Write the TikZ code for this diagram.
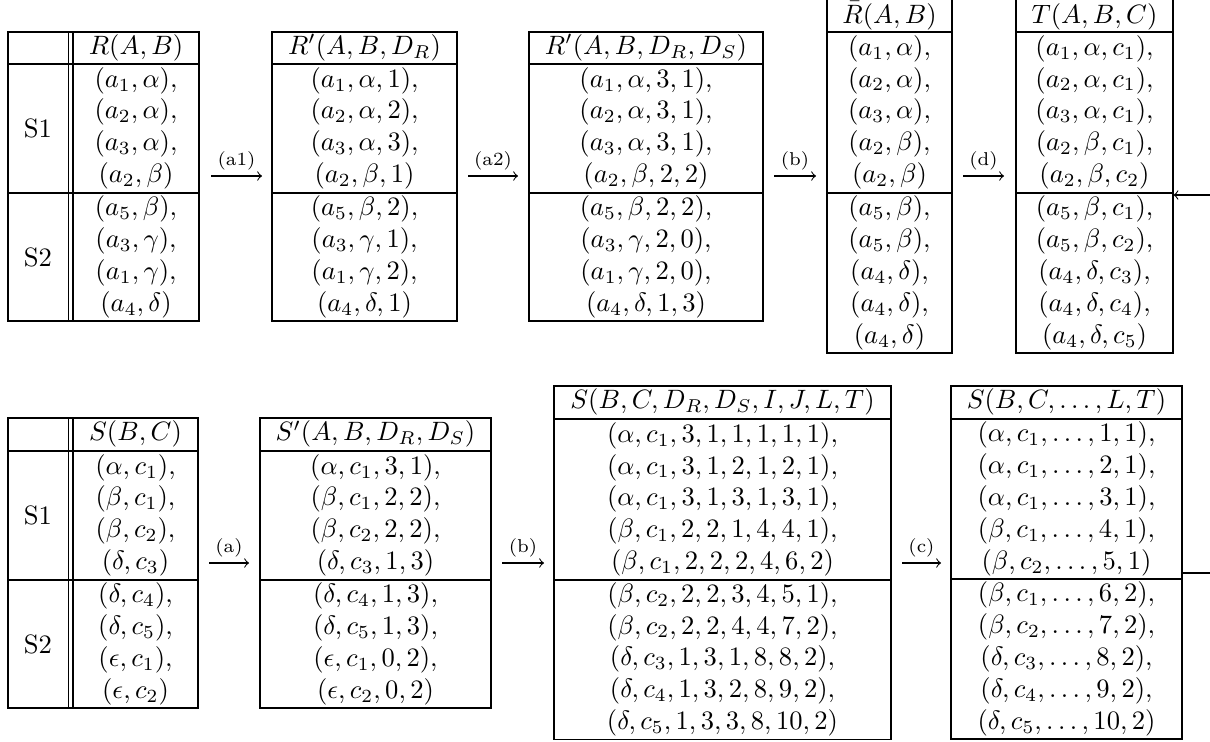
\documentclass[tikz,border=0pt]{standalone}
\newcommand\rw[1]{\strut$#1$}
\newcommand\tcell[6]{\node[cellbox, minimum width={(#4-#2)*0.3764pt}, minimum height={(#5-#3)*0.3764pt}] (#1) at ({(#2+#4)/2},{(#3+#5)/2}) {#6};}
\newcommand\sidelab[1]{\hspace*{-0.94pt}#1\hspace*{0.94pt}}
\tikzset{
  cellbox/.style={draw, line width=0.4pt, inner sep=0pt, align=center},
  headtext/.style={anchor=base, inner sep=0pt},
  flow/.style={->, line width=0.4pt},
  rule/.style={line width=0.4pt},
  lab/.style={above, inner sep=2pt, font=\scriptsize},
}
\begin{document}
\begin{tikzpicture}[x=0.3764pt, y=-0.3764pt]
\useasboundingbox (0,0) rectangle (1210,742);

% ---- Table R(A,B)
\tcell{rH0}{8}{32}{73}{64}{}
\tcell{rH}{73}{32}{199}{64}{\rw{R(A,B)}}
\tcell{rS1}{8}{64}{73}{193}{\sidelab{S1}}
\tcell{rB1}{73}{64}{199}{193}{\rw{(a_1,\alpha),}\\\rw{(a_2,\alpha),}\\\rw{(a_3,\alpha),}\\\rw{(a_2,\beta)}}
\tcell{rS2}{8}{193}{73}{321}{\sidelab{S2}}
\tcell{rB2}{73}{193}{199}{321}{\rw{(a_5,\beta),}\\\rw{(a_3,\gamma),}\\\rw{(a_1,\gamma),}\\\rw{(a_4,\delta)}}
\draw[rule] (rH0.north east) ++(-5,0) -- ([xshift=-5*0.3764pt]rS2.south east);

% ---- Table R'(A,B,D_R)
\tcell{pH}{272}{32}{457}{64}{\rw{R'(A,B,D_R)}}
\tcell{pB1}{272}{64}{457}{193}{\rw{(a_1,\alpha,1),}\\\rw{(a_2,\alpha,2),}\\\rw{(a_3,\alpha,3),}\\\rw{(a_2,\beta,1)}}
\tcell{pB2}{272}{193}{457}{321}{\rw{(a_5,\beta,2),}\\\rw{(a_3,\gamma,1),}\\\rw{(a_1,\gamma,2),}\\\rw{(a_4,\delta,1)}}

% ---- Table R'(A,B,D_R,D_S)
\tcell{qH}{529}{32}{763}{64}{\rw{R'(A,B,D_R,D_S)}}
\tcell{qB1}{529}{64}{763}{193}{\rw{(a_1,\alpha,3,1),}\\\rw{(a_2,\alpha,3,1),}\\\rw{(a_3,\alpha,3,1),}\\\rw{(a_2,\beta,2,2)}}
\tcell{qB2}{529}{193}{763}{321}{\rw{(a_5,\beta,2,2),}\\\rw{(a_3,\gamma,2,0),}\\\rw{(a_1,\gamma,2,0),}\\\rw{(a_4,\delta,1,3)}}

% ---- Table bar R(A,B)
\tcell{bH}{827}{-2}{952}{32}{}
\node[headtext] (bHt) at (889.5,23.5) {$\bar{R}(A,B)$};
\tcell{bB1}{827}{32}{952}{193}{\rw{(a_1,\alpha),}\\\rw{(a_2,\alpha),}\\\rw{(a_3,\alpha),}\\\rw{(a_2,\beta),}\\\rw{(a_2,\beta)}}
\tcell{bB2}{827}{193}{952}{353}{\rw{(a_5,\beta),}\\\rw{(a_5,\beta),}\\\rw{(a_4,\delta),}\\\rw{(a_4,\delta),}\\\rw{(a_4,\delta)}}

% ---- Table T(A,B,C)
\tcell{tH}{1016}{-2}{1173}{32}{}
\node[headtext] (tHt) at (1094.5,23.5) {$T(A,B,C)$};
\tcell{tB1}{1016}{32}{1173}{193}{\rw{(a_1,\alpha,c_1),}\\\rw{(a_2,\alpha,c_1),}\\\rw{(a_3,\alpha,c_1),}\\\rw{(a_2,\beta,c_1),}\\\rw{(a_2,\beta,c_2)}}
\tcell{tB2}{1016}{193}{1173}{353}{\rw{(a_5,\beta,c_1),}\\\rw{(a_5,\beta,c_2),}\\\rw{(a_4,\delta,c_3),}\\\rw{(a_4,\delta,c_4),}\\\rw{(a_4,\delta,c_5)}}

% ---- Table S(B,C)
\tcell{sH0}{8}{418}{73}{451}{}
\tcell{sH}{73}{418}{198}{451}{\rw{S(B,C)}}
\tcell{sS1}{8}{451}{73}{580}{\sidelab{S1}}
\tcell{sB1}{73}{451}{198}{580}{\rw{(\alpha,c_1),}\\\rw{(\beta,c_1),}\\\rw{(\beta,c_2),}\\\rw{(\delta,c_3)}}
\tcell{sS2}{8}{580}{73}{708}{\sidelab{S2}}
\tcell{sB2}{73}{580}{198}{708}{\rw{(\delta,c_4),}\\\rw{(\delta,c_5),}\\\rw{(\epsilon,c_1),}\\\rw{(\epsilon,c_2)}}
\draw[rule] (sH0.north east) ++(-5,0) -- ([xshift=-5*0.3764pt]sS2.south east);

% ---- Table S'(A,B,D_R,D_S)
\tcell{uH}{260}{418}{491}{451}{\rw{S'(A,B,D_R,D_S)}}
\tcell{uB1}{260}{451}{491}{580}{\rw{(\alpha,c_1,3,1),}\\\rw{(\beta,c_1,2,2),}\\\rw{(\beta,c_2,2,2),}\\\rw{(\delta,c_3,1,3)}}
\tcell{uB2}{260}{580}{491}{708}{\rw{(\delta,c_4,1,3),}\\\rw{(\delta,c_5,1,3),}\\\rw{(\epsilon,c_1,0,2),}\\\rw{(\epsilon,c_2,0,2)}}

% ---- Table S(B,C,D_R,D_S,I,J,L,T)
\tcell{vH}{554}{386}{891}{419}{\rw{S(B,C,D_R,D_S,I,J,L,T)}}
\tcell{vB1}{554}{419}{891}{580}{\rw{(\alpha,c_1,3,1,1,1,1,1),}\\\rw{(\alpha,c_1,3,1,2,1,2,1),}\\\rw{(\alpha,c_1,3,1,3,1,3,1),}\\\rw{(\beta,c_1,2,2,1,4,4,1),}\\\rw{(\beta,c_1,2,2,2,4,6,2)}}
\tcell{vB2}{554}{580}{891}{739}{\rw{(\beta,c_2,2,2,3,4,5,1),}\\\rw{(\beta,c_2,2,2,4,4,7,2),}\\\rw{(\delta,c_3,1,3,1,8,8,2),}\\\rw{(\delta,c_4,1,3,2,8,9,2),}\\\rw{(\delta,c_5,1,3,3,8,10,2)}}

% ---- Table S(B,C,...,L,T)
\tcell{wH}{951}{386}{1182}{419}{\rw{S(B,C,\ldots,L,T)}}
\tcell{wB1}{951}{419}{1182}{579}{\rw{(\alpha,c_1,\ldots,1,1),}\\\rw{(\alpha,c_1,\ldots,2,1),}\\\rw{(\alpha,c_1,\ldots,3,1),}\\\rw{(\beta,c_1,\ldots,4,1),}\\\rw{(\beta,c_2,\ldots,5,1)}}
\tcell{wB2}{951}{579}{1182}{739}{\rw{(\beta,c_1,\ldots,6,2),}\\\rw{(\beta,c_2,\ldots,7,2),}\\\rw{(\delta,c_3,\ldots,8,2),}\\\rw{(\delta,c_4,\ldots,9,2),}\\\rw{(\delta,c_5,\ldots,10,2)}}

% ---- arrows, top row
\coordinate (a1s) at (211,176); \coordinate (a1e) at (262,176);
\draw[flow] (a1s) -- node[lab]{(a1)} (a1e);
\coordinate (a2s) at (468,176); \coordinate (a2e) at (518,176);
\draw[flow] (a2s) -- node[lab]{(a2)} (a2e);
\coordinate (bs) at (774,176); \coordinate (be) at (816,176);
\draw[flow] (bs) -- node[lab]{(b)} (be);
\coordinate (ds) at (963,176); \coordinate (de) at (1004,176);
\draw[flow] (ds) -- node[lab]{(d)} (de);

% ---- arrows, bottom row
\coordinate (as) at (209,563); \coordinate (ae) at (249,563);
\draw[flow] (as) -- node[lab]{(a)} (ae);
\coordinate (b2s) at (502,563); \coordinate (b2e) at (544,563);
\draw[flow] (b2s) -- node[lab]{(b)} (b2e);
\coordinate (cs) at (902,563); \coordinate (ce) at (941,563);
\draw[flow] (cs) -- node[lab]{(c)} (ce);

% ---- connectors leaving the picture on the right
\coordinate (inT) at (1210,195);
\draw[flow] (inT) -- (inT -| tB2.east);
\coordinate (outW) at (1210,573);
\draw[rule] (outW -| wB1.east) -- (outW);
\end{tikzpicture}
\end{document}
